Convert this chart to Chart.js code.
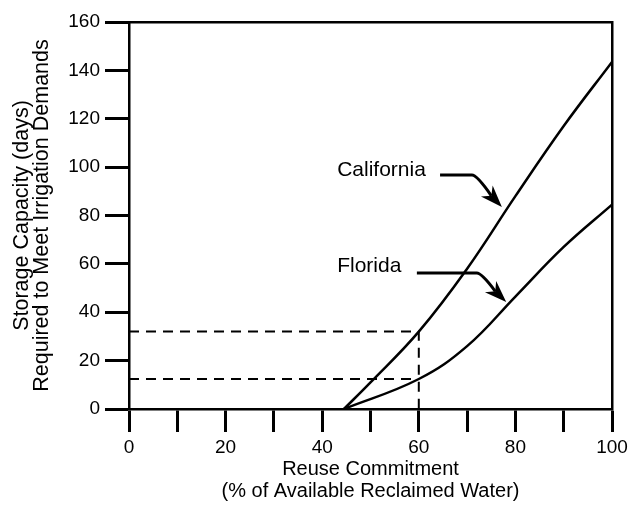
<!DOCTYPE html>
<html>
<head>
<meta charset="utf-8">
<script src="https://cdn.jsdelivr.net/npm/chart.js@4.4.1/dist/chart.umd.min.js"></script>
<style>
html, body { margin: 0; padding: 0; background: #fff; }
#wrap { width: 635px; height: 508px; position: relative; }
</style>
</head>
<body>
<div id="wrap"><canvas id="storageChart"></canvas></div>
<script>
// values
var californiaX = [44.5, 50, 60, 70, 80, 90, 100];
var californiaDays = [0, 11, 32, 58, 88, 117, 143.5];
var floridaX = [44.5, 60, 70, 80, 90, 100];
var floridaDays = [0, 12.4, 26, 46.5, 67, 84.5];

// dashed guide lines at 60 % commitment
var guideCommitment = 60;
var guideCalifornia = 32;
var guideFlorida = 12.4;

// callout labels and arrows (data units)
var calloutNames = ['California', 'Florida'];
var calloutTextX = [43.1, 43.1];
var calloutTextY = [98.8, 58.9];
var arrowStartX = [64.4, 59.6];
var arrowStartY = [96.7, 56.2];
var arrowBendX = [71.0, 72.0];
var arrowTipX = [77.2, 78.1];
var arrowTipY = [83.5, 44.2];

var FONT = '"Liberation Sans", Arial, Helvetica, sans-serif';
Chart.defaults.font.family = FONT;
Chart.defaults.color = '#000';

function toPoints(xs, ys) {
    var pts = [];
    for (var i = 0; i < xs.length; i++) {
        pts.push({x: xs[i], y: ys[i]});
    }
    return pts;
}

var calloutPlugin = {
    id: 'callouts',
    afterDatasetsDraw: function (chart) {
        var ctx = chart.ctx;
        var xs = chart.scales.x, ys = chart.scales.y;
        ctx.save();
        ctx.fillStyle = '#000';
        ctx.strokeStyle = '#000';
        ctx.font = '21px ' + FONT;
        ctx.textBaseline = 'middle';
        ctx.textAlign = 'left';
        for (var i = 0; i < calloutNames.length; i++) {
            ctx.fillText(calloutNames[i], xs.getPixelForValue(calloutTextX[i]), ys.getPixelForValue(calloutTextY[i]));

            var sx = xs.getPixelForValue(arrowStartX[i]);
            var sy = ys.getPixelForValue(arrowStartY[i]);
            var bx = xs.getPixelForValue(arrowBendX[i]);
            var tx = xs.getPixelForValue(arrowTipX[i]);
            var ty = ys.getPixelForValue(arrowTipY[i]);
            var dx = tx - bx, dy = ty - sy;
            var len = Math.sqrt(dx * dx + dy * dy);
            dx /= len; dy /= len;
            var nx = -dy, ny = dx;
            var headLen = 22, headW = 8;
            var baseX = tx - dx * headLen * 0.7, baseY = ty - dy * headLen * 0.7;

            ctx.lineWidth = 3;
            ctx.lineJoin = 'round';
            ctx.beginPath();
            ctx.moveTo(sx, sy);
            ctx.lineTo(bx, sy);
            ctx.quadraticCurveTo(bx + 5, sy, baseX, baseY);
            ctx.stroke();

            ctx.beginPath();
            ctx.moveTo(tx, ty);
            ctx.lineTo(tx - dx * headLen + nx * headW, ty - dy * headLen + ny * headW);
            ctx.lineTo(baseX, baseY);
            ctx.lineTo(tx - dx * headLen - nx * headW, ty - dy * headLen - ny * headW);
            ctx.closePath();
            ctx.fill();
        }
        ctx.restore();
    }
};

var curveStyle = {
    borderColor: '#000',
    borderWidth: 2.5,
    pointRadius: 0,
    fill: false,
    tension: 0.4
};

var guideStyle = {
    borderColor: '#000',
    borderWidth: 2,
    borderDash: [10, 7],
    pointRadius: 0,
    fill: false,
    tension: 0
};

var data = {
    datasets: [
        Object.assign({label: 'California', data: toPoints(californiaX, californiaDays)}, curveStyle),
        Object.assign({label: 'Florida', data: toPoints(floridaX, floridaDays)}, curveStyle),
        Object.assign({label: 'CA guide', data: [
            {x: 0, y: guideCalifornia}, {x: guideCommitment, y: guideCalifornia}, {x: guideCommitment, y: 0}
        ]}, guideStyle),
        Object.assign({label: 'FL guide', data: [
            {x: 0, y: guideFlorida}, {x: guideCommitment, y: guideFlorida}
        ]}, guideStyle)
    ]
};

var axisBorder = {display: true, color: '#000', width: 2.5};

var storageChart = new Chart(document.getElementById('storageChart').getContext('2d'), {
    type: 'line',
    data: data,
    plugins: [calloutPlugin],
    options: {
        responsive: true,
        maintainAspectRatio: false,
        animation: false,
        layout: {padding: {top: 22, right: 23, left: 0, bottom: 0}},
        plugins: {legend: {display: false}, tooltip: {enabled: false}},
        scales: {
            x: {
                type: 'linear',
                position: 'bottom',
                min: 0,
                max: 100,
                afterFit: function (scale) { scale.height = 99; },
                border: axisBorder,
                grid: {drawOnChartArea: false, drawTicks: true, tickLength: 23, tickWidth: 3, tickColor: '#000'},
                ticks: {
                    stepSize: 10,
                    padding: 4,
                    maxRotation: 0,
                    autoSkip: false,
                    font: {size: 19},
                    callback: function (v) { return v % 20 === 0 ? v : ''; }
                },
                title: {
                    display: true,
                    text: ['Reuse Commitment', '(% of Available Reclaimed Water)'],
                    font: {size: 20, lineHeight: 1.1},
                    padding: {top: 0, bottom: 6}
                }
            },
            y: {
                type: 'linear',
                position: 'left',
                min: 0,
                max: 160,
                afterFit: function (scale) { scale.width = 129; },
                border: axisBorder,
                grid: {drawOnChartArea: false, drawTicks: true, tickLength: 24, tickWidth: 3, tickColor: '#000'},
                ticks: {stepSize: 20, padding: 5, font: {size: 19}},
                title: {
                    display: true,
                    text: ['Storage Capacity (days)', 'Required to Meet Irrigation Demands'],
                    font: {size: 21.5, lineHeight: 0.93},
                    padding: {top: 12, bottom: 0}
                }
            },
            xTop: {
                type: 'linear',
                position: 'top',
                min: 0,
                max: 100,
                afterFit: function (scale) { scale.height = 0; },
                border: {display: true, color: '#000', width: 2.5},
                grid: {display: false},
                ticks: {display: false}
            },
            yRight: {
                type: 'linear',
                position: 'right',
                min: 0,
                max: 160,
                afterFit: function (scale) { scale.width = 0; },
                border: {display: true, color: '#000', width: 2.5},
                grid: {display: false},
                ticks: {display: false}
            }
        }
    }
});
</script>
</body>
</html>
